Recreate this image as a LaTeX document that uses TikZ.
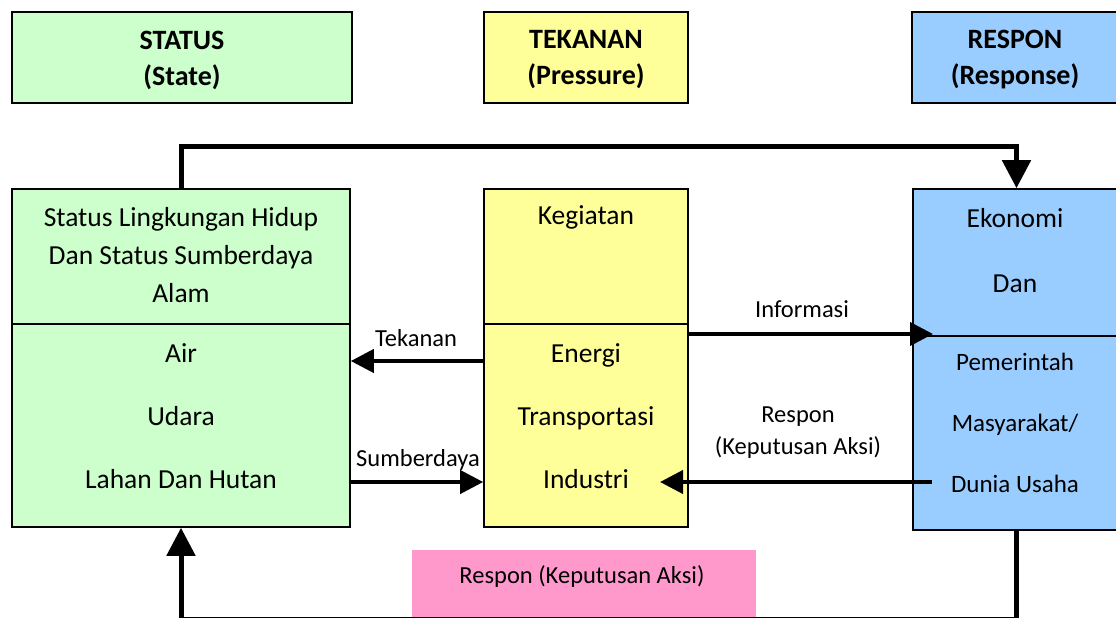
\documentclass[tikz,border=0pt]{standalone}
\usepackage{fontspec}
\setmainfont{Carlito}
\usetikzlibrary{arrows.meta}

\definecolor{stategreen}{HTML}{CCFFCC}
\definecolor{pressyellow}{HTML}{FFFF99}
\definecolor{respblue}{HTML}{99CCFF}
\definecolor{actpink}{HTML}{FF99CC}

\tikzset{
  box/.style={draw, line width=1.6pt, inner sep=0pt},
  head/.style={font=\fontsize{28}{36}\selectfont\bfseries, align=center, inner sep=0pt},
  boxtext/.style={font=\fontsize{27.5}{38}\selectfont, align=center, inner sep=0pt},
  lbl/.style={font=\fontsize{24.5}{32}\selectfont, align=center, inner sep=0pt},
  flow/.style={line width=4pt, -{Triangle[length=23pt,width=23pt]}},
  loopflow/.style={line width=5pt, -{Triangle[length=28pt,width=28pt]}},
}

\begin{document}
\begin{tikzpicture}[x=1pt, y=-1pt]
    \useasboundingbox (0,0) rectangle (1116,618);
    \clip (0,0) rectangle (1116,618);

    % Header boxes
    \node[box, fill=stategreen, minimum width=340pt, minimum height=91pt] (statehead) at (182,57.5) {};
    \node[box, fill=pressyellow, minimum width=204pt, minimum height=91pt] (presshead) at (586,57.5) {};
    \node[box, fill=respblue, minimum width=208pt, minimum height=91pt] (resphead) at (1016,57.5) {};
    \node[head] (stateheadtxt) at (182,60) {STATUS\\(State)};
    \node[head] (pressheadtxt) at (586,60) {TEKANAN\\(Pressure)};
    \node[head] (respheadtxt) at (1015,60) {RESPON\\(Response)};

    % Main boxes
    \node[box, fill=stategreen, minimum width=338pt, minimum height=135pt] (statetop) at (181,256.5) {};
    \node[box, fill=stategreen, minimum width=338pt, minimum height=203pt] (statebot) at (181,425.5) {};
    \node[box, fill=pressyellow, minimum width=204pt, minimum height=135pt] (presstop) at (586,256.5) {};
    \node[box, fill=pressyellow, minimum width=204pt, minimum height=203pt] (pressbot) at (586,425.5) {};
    \node[box, fill=respblue, minimum width=207pt, minimum height=147pt] (resptop) at (1016.5,262.5) {};
    \node[box, fill=respblue, minimum width=207pt, minimum height=194pt] (respbot) at (1016.5,433) {};

    % Box texts
    \node[boxtext] (statetoptxt) at (181,255) {Status Lingkungan Hidup\\Dan Status Sumberdaya\\Alam};
    \node[boxtext, font=\fontsize{27.5}{63}\selectfont] (statebottxt) at (181,416) {Air\\Udara\\Lahan Dan Hutan};
    \node[boxtext] (presstoptxt) at (586,217) {Kegiatan};
    \node[boxtext, font=\fontsize{27.5}{63}\selectfont] (pressbottxt) at (586,416) {Energi\\Transportasi\\Industri};
    \node[boxtext, font=\fontsize{27.5}{65}\selectfont] (resptoptxt) at (1015,250.5) {Ekonomi\\Dan};
    \node[boxtext, font=\fontsize{25}{61}\selectfont] (respbottxt) at (1015,423) {Pemerintah\\Masyarakat/\\Dunia Usaha};

    % Action box
    \node[fill=actpink, minimum width=344pt, minimum height=76pt, inner sep=0pt] (action) at (584,588) {};
    \node[lbl] (actiontxt) at (582,577) {Respon (Keputusan Aksi)};

    % Loop arrows
    \draw[loopflow] (statetop.north) -- (181,146) -| (resptop.north);
    \draw[loopflow] (respbot.south) -- (1016.5,619) -| (statebot.south);

    % Flow arrows
    \coordinate (infoend) at (933,334);
    \coordinate (respstart) at (932,482);
    \coordinate (respend) at (660,482);
    \draw[flow] (presstop.east |- infoend) -- (infoend);
    \draw[flow] (pressbot.west |- 0,361) -- (statebot.east |- 0,361);
    \draw[flow] (statebot.east |- 0,482) -- (pressbot.west |- 0,482);
    \draw[flow] (respstart) -- (respend);

    % Flow labels
    \node[lbl] (infolbl) at (802,309) {Informasi};
    \node[lbl] (tekananlbl) at (416,338) {Tekanan};
    \node[lbl] (sumberlbl) at (418,460) {Sumberdaya};
    \node[lbl] (responlbl) at (798,433) {Respon\\(Keputusan Aksi)};

\end{tikzpicture}
\end{document}
